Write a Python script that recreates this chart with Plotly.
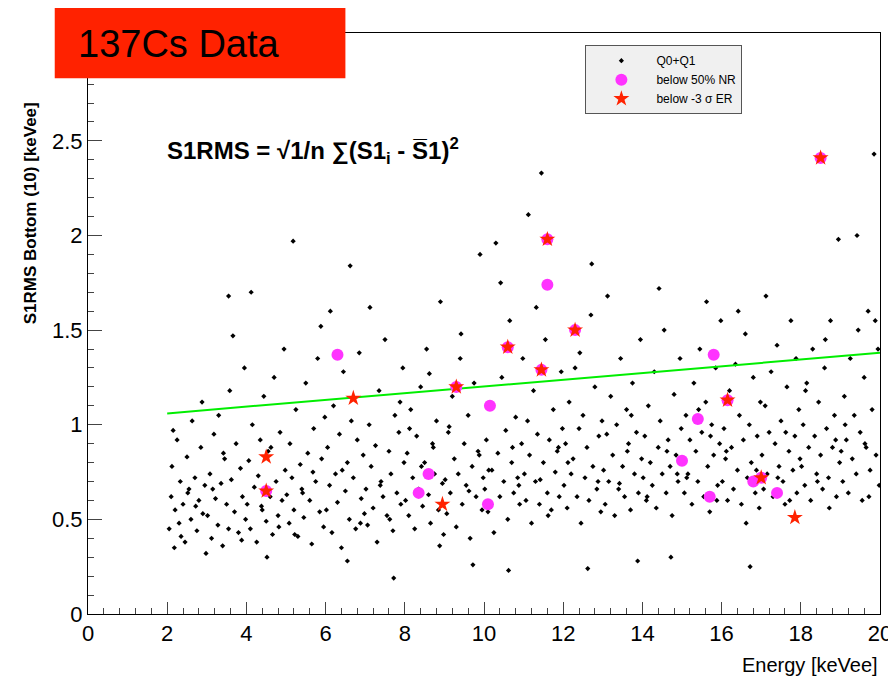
import plotly.graph_objects as go

# Q0+Q1 events (energy keVee, S1RMS bottom)
energy = [
 2.05,2.1,2.12,2.18,2.2,2.25,2.3,2.33,2.4,2.45,2.5,2.52,2.6,2.63,2.7,2.75,2.8,2.85,2.9,2.95,2.98,2.15,2.35,2.55,2.72,2.88,
 3.02,3.08,3.12,3.18,3.22,3.28,3.3,3.36,3.4,3.45,3.5,3.55,3.58,3.62,3.7,3.74,3.8,3.85,3.9,3.95,3.98,3.15,3.42,3.66,3.88,3.55,
 4.02,4.06,4.1,4.15,4.2,4.26,4.3,4.35,4.4,4.44,4.5,4.55,4.6,4.66,4.7,4.75,4.8,4.85,4.9,4.95,4.98,4.12,4.38,4.62,4.82,4.52,
 5.02,5.08,5.1,5.15,5.2,5.25,5.3,5.36,5.4,5.45,5.5,5.55,5.6,5.65,5.7,5.75,5.8,5.85,5.9,5.95,5.98,5.18,5.42,5.68,5.88,5.22,
 6.02,6.05,6.1,6.16,6.2,6.25,6.3,6.35,6.4,6.45,6.5,6.55,6.6,6.65,6.7,6.76,6.8,6.85,6.9,6.95,6.98,6.12,6.42,6.62,6.88,6.55,
 7.02,7.06,7.1,7.15,7.2,7.26,7.3,7.35,7.4,7.45,7.5,7.55,7.6,7.65,7.7,7.75,7.8,7.85,7.9,7.95,7.98,7.12,7.38,7.62,7.88,7.72,
 8.02,8.06,8.1,8.15,8.2,8.25,8.3,8.35,8.4,8.45,8.5,8.55,8.6,8.65,8.7,8.75,8.8,8.85,8.9,8.95,8.98,8.12,8.42,8.62,8.88,8.72,
 9.02,9.06,9.1,9.15,9.2,9.25,9.3,9.35,9.4,9.45,9.5,9.55,9.6,9.65,9.7,9.75,9.8,9.85,9.9,9.95,9.98,9.12,9.42,9.62,9.88,9.72,
 10.02,10.06,10.1,10.15,10.2,10.25,10.3,10.35,10.4,10.45,10.5,10.55,10.6,10.65,10.7,10.75,10.8,10.85,10.9,10.95,10.98,10.12,10.42,10.62,10.88,10.72,
 11.02,11.06,11.1,11.15,11.2,11.25,11.3,11.35,11.4,11.45,11.5,11.55,11.6,11.65,11.7,11.75,11.8,11.85,11.9,11.95,11.98,11.12,11.42,11.62,11.88,11.32,
 12.02,12.06,12.1,12.15,12.2,12.25,12.3,12.35,12.4,12.45,12.5,12.55,12.6,12.65,12.7,12.75,12.8,12.85,12.9,12.95,12.98,12.12,12.42,12.62,12.88,12.72,
 13.02,13.06,13.1,13.15,13.2,13.25,13.3,13.35,13.4,13.45,13.5,13.55,13.6,13.65,13.7,13.75,13.8,13.85,13.9,13.95,13.98,13.12,13.42,13.62,13.88,13.72,
 14.02,14.06,14.1,14.15,14.2,14.25,14.3,14.35,14.4,14.45,14.5,14.55,14.6,14.65,14.7,14.75,14.8,14.85,14.9,14.95,14.98,14.12,14.42,14.62,14.88,14.72,
 15.02,15.06,15.1,15.15,15.2,15.25,15.3,15.35,15.4,15.45,15.5,15.55,15.6,15.65,15.7,15.75,15.8,15.85,15.9,15.95,15.98,15.12,15.42,15.62,15.88,15.72,
 16.02,16.06,16.1,16.15,16.2,16.25,16.3,16.35,16.4,16.45,16.5,16.55,16.6,16.65,16.7,16.75,16.8,16.85,16.9,16.95,16.98,16.12,16.42,16.62,16.88,16.72,
 17.02,17.06,17.1,17.15,17.2,17.25,17.3,17.35,17.4,17.45,17.5,17.55,17.6,17.65,17.7,17.75,17.8,17.85,17.9,17.95,17.98,17.12,17.42,17.62,17.88,17.72,
 18.02,18.06,18.1,18.15,18.2,18.25,18.3,18.35,18.4,18.45,18.5,18.55,18.6,18.65,18.7,18.75,18.8,18.85,18.9,18.95,18.98,18.12,18.42,18.62,18.88,18.72,
 19.02,19.06,19.1,19.15,19.2,19.25,19.3,19.35,19.4,19.45,19.5,19.55,19.6,19.65,19.7,19.75,19.8,19.85,19.9,19.95,19.98,19.12,19.42,19.62,19.88,19.72,
]
s1rms = [
 0.45,0.62,0.78,0.35,0.55,0.92,0.48,0.70,0.58,0.38,0.83,0.64,0.50,1.02,0.72,0.44,0.60,0.88,0.53,0.68,0.32,0.97,0.41,0.66,0.57,1.12,
 0.52,0.74,0.40,0.95,0.61,0.47,1.05,0.69,0.36,0.82,0.58,0.45,1.18,0.71,0.54,0.90,0.43,0.77,0.62,1.30,0.50,0.66,0.85,1.47,0.39,1.68,
 0.58,0.81,0.45,1.00,0.67,0.38,0.73,0.92,0.55,1.15,0.49,0.86,0.62,0.42,1.25,0.70,0.52,0.96,0.60,1.40,0.76,1.70,0.57,0.88,0.46,0.30,
 0.63,0.48,0.90,0.72,0.55,1.08,0.41,0.79,0.66,0.51,1.22,0.85,0.60,0.37,0.98,0.70,1.35,0.54,0.82,0.46,1.04,1.97,0.64,0.75,1.52,0.42,
 0.55,0.88,0.68,0.43,1.10,0.74,0.59,0.95,0.35,1.28,0.65,0.80,0.50,1.02,0.72,0.45,0.92,1.38,0.61,0.84,0.53,1.60,0.76,1.84,0.48,0.28,
 0.66,0.47,1.00,0.78,0.56,0.89,0.38,1.18,0.70,0.62,1.45,0.52,0.86,0.74,0.44,1.05,0.64,0.96,0.58,1.30,0.80,1.62,0.68,0.50,1.12,0.19,
 0.60,0.85,0.52,1.08,0.72,0.45,0.94,0.66,1.20,0.57,0.80,1.40,0.63,0.48,0.90,0.74,1.02,0.55,1.65,0.69,0.42,0.98,0.78,1.27,0.36,0.88,
 0.71,0.53,0.96,0.64,1.15,0.82,0.46,0.74,1.35,0.58,0.90,0.68,1.05,0.40,0.78,1.22,0.62,0.86,1.90,0.55,0.72,0.99,1.48,0.65,0.84,0.26,
 0.66,0.92,0.54,1.10,0.76,0.43,1.96,0.85,0.62,1.25,0.70,0.97,0.50,1.55,0.80,0.64,1.04,0.72,0.58,0.90,1.35,0.76,1.75,0.23,0.68,0.88,
 0.74,0.60,1.02,0.84,0.48,1.18,0.70,0.95,0.58,2.33,0.80,1.45,0.64,0.92,0.55,1.08,0.75,0.86,0.62,1.28,0.98,2.11,0.71,0.52,0.88,1.62,
 0.68,0.90,0.56,1.12,0.74,0.82,1.30,0.62,0.98,0.48,1.05,0.72,0.88,0.60,1.58,0.78,1.20,0.66,0.94,0.54,1.02,0.80,1.38,0.24,0.70,1.85,
 0.76,0.58,0.95,0.70,1.15,0.84,0.52,1.00,0.66,1.35,0.78,0.62,1.08,0.90,0.55,1.22,0.74,0.96,0.64,1.45,0.82,1.68,0.69,0.86,0.28,1.05,
 0.72,0.94,0.60,1.10,0.80,0.68,1.28,0.56,0.88,1.02,0.74,1.50,0.64,0.92,0.78,0.52,1.16,0.84,0.70,1.35,0.98,0.62,1.72,0.86,0.74,0.30,
 0.80,0.64,1.05,0.74,0.92,0.58,1.22,0.86,0.70,1.40,0.96,0.62,1.12,0.78,0.54,1.00,0.84,1.30,0.68,0.90,1.55,0.72,1.08,1.65,0.60,0.94,
 0.70,0.98,0.82,0.60,1.18,0.88,0.66,1.32,0.76,1.05,0.58,0.92,1.48,0.72,1.00,0.80,1.25,0.64,0.94,0.56,1.12,0.86,1.60,0.48,0.76,0.25,
 0.84,0.66,1.10,0.74,0.96,1.28,0.62,0.90,1.42,0.78,1.02,0.70,0.58,1.20,0.86,1.55,0.76,0.94,0.64,1.08,0.82,1.68,0.72,0.96,1.35,0.60,
 0.78,1.00,0.68,1.22,0.88,0.60,1.40,0.94,0.74,1.12,0.84,0.66,1.30,0.98,0.72,1.55,0.88,1.05,0.62,1.98,0.80,1.18,0.70,1.45,0.92,0.56,
 0.86,0.70,1.15,0.92,0.64,1.35,0.82,1.05,0.74,1.50,0.96,0.60,1.25,0.88,1.60,0.76,1.08,2.43,0.84,1.40,0.68,1.00,2.00,0.90,1.55,0.62,
]
# highlighted events
nr_x = [4.5, 6.3, 8.35, 8.6, 10.1, 10.15, 11.6, 15.0, 15.4, 15.7, 15.8, 16.8, 17.4,
        11.6, 18.5, 12.3, 10.6, 11.45, 9.3, 16.15, 17.0]
nr_y = [0.65, 1.37, 0.64, 0.74, 0.58, 1.10, 1.74, 0.81, 1.03, 0.62, 1.37, 0.70, 0.64,
        1.98, 2.41, 1.50, 1.41, 1.29, 1.20, 1.13, 0.72]
er_x = [4.5, 4.5, 6.7, 8.95, 9.3, 10.6, 11.45, 11.6, 12.3, 16.15, 17.0, 17.85, 18.5]
er_y = [0.83, 0.65, 1.14, 0.58, 1.20, 1.41, 1.29, 1.98, 1.50, 1.13, 0.72, 0.51, 2.41]
cut_x = [2.0, 20.0]
cut_y = [1.06, 1.38]

fig = go.Figure()
fig.add_trace(go.Scatter(x=energy, y=s1rms, mode="markers", name="Q0+Q1",
                         marker=dict(color="black", size=4, symbol="diamond")))
fig.add_trace(go.Scatter(x=cut_x, y=cut_y, mode="lines", showlegend=False,
                         line=dict(color="#00ee00", width=2)))
fig.add_trace(go.Scatter(x=nr_x, y=nr_y, mode="markers", name="below 50% NR",
                         marker=dict(color="#ff33ff", size=12)))
fig.add_trace(go.Scatter(x=er_x, y=er_y, mode="markers", name="below -3 σ ER",
                         marker=dict(color="#ff2200", size=12, symbol="star")))

axis = dict(showgrid=False, zeroline=False, showline=True, mirror=True, linecolor="black",
            ticks="inside", ticklen=12,
            tickfont=dict(size=22, family="Liberation Sans Narrow, Liberation Sans"))
fig.update_layout(
    width=896, height=677, paper_bgcolor="white", plot_bgcolor="white",
    margin=dict(l=80, r=24, t=25, b=71), font=dict(family="Liberation Sans", color="black"),
    xaxis=dict(axis, range=[0, 20], dtick=2, minor=dict(ticks="inside", ticklen=6, dtick=0.4)),
    yaxis=dict(axis, range=[0, 3.07], dtick=0.5, ticklen=14,
               minor=dict(ticks="inside", ticklen=6, dtick=0.1)),
    legend=dict(x=0.628, y=0.979, xanchor="left", yanchor="top", bgcolor="#f0f0f0",
                bordercolor="#555", borderwidth=1, font=dict(size=12), itemwidth=60),
    showlegend=True,
)
fig.add_annotation(text="Energy [keVee]", xref="paper", yref="paper", x=1, y=-0.065,
                   xanchor="right", yanchor="top", showarrow=False,
                   font=dict(size=20, family="Liberation Sans Narrow, Liberation Sans"))
fig.add_annotation(text="<b>S1RMS Bottom (10) [keVee]</b>", xref="paper", yref="paper",
                   x=-0.073, y=0.69, xanchor="center", yanchor="middle", textangle=-90,
                   showarrow=False, font=dict(size=17))
fig.add_annotation(text="<b>S1RMS = √<span style='font-size:24px'>1/n ∑(S1<sub>i</sub> - S\u03051)<sup>2</sup></span></b>",
                   xref="paper", yref="paper", x=0.097, y=0.83, xanchor="left",
                   showarrow=False, font=dict(size=24))
fig.add_shape(type="rect", xref="paper", yref="paper", x0=-0.042, x1=0.325, y0=0.922, y1=1.06,
              fillcolor="#ff2200", line=dict(width=0))
fig.add_annotation(text="137Cs Data", xref="paper", yref="paper", x=-0.015, y=1.02,
                   xanchor="left", showarrow=False, font=dict(size=38, color="black"))
fig.write_html("out.html")
